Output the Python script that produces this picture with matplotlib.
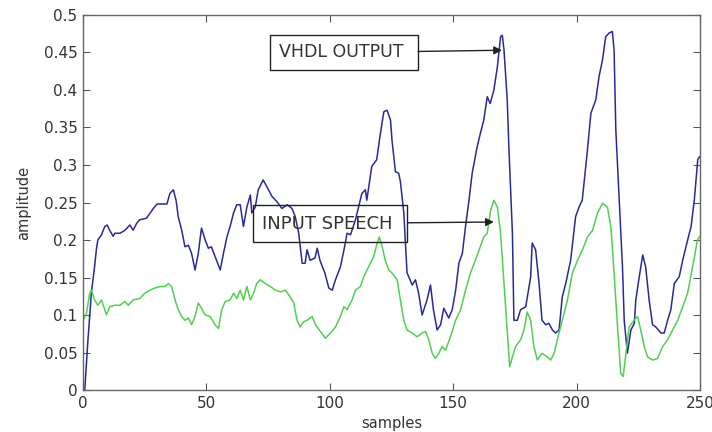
import matplotlib
matplotlib.use("Agg")
import matplotlib.pyplot as plt

# VHDL output (blue)
vhdl_x = [0.7, 2, 3.4, 4.7, 5.4, 6, 7.5, 8.8, 9.8, 10.8, 12.2, 12.9, 15, 17, 19, 20.3,
          21.7, 23, 25.7, 28.5, 30, 34, 35.2, 36.6, 37.7, 38.6, 40, 41.3, 42.7, 44,
          45.4, 46.7, 48, 49.5, 50.8, 52, 53.5, 55.6, 56.9, 58.3, 59.6, 61, 62.3, 63.7,
          65, 66.4, 67.8, 68.4, 69.8, 71, 73, 74.5, 76.6, 78.6, 80.6, 82.7, 84.7, 86,
          87.4, 88.8, 90, 90.8, 92, 94, 94.9, 96, 98, 99.6, 101, 102.3, 104.3, 106, 107,
          108.4, 110.4, 113, 114.4, 115, 117, 119, 120.5, 121.9, 123.2, 124.6, 125.2,
          126.6, 127.9, 128.6, 130, 131.3, 132, 133.4, 134.7, 136, 137.4, 139.4, 140.8,
          142, 143.5, 144.9, 146.2, 148.2, 149.6, 151, 152.3, 153.7, 155, 156.4, 157.7,
          159.7, 161, 162.4, 163.8, 165, 166.5, 167.9, 169.2, 169.9, 170.6, 171.9, 172.6,
          174, 174.6, 176, 177.3, 179.4, 181.4, 182, 183.4, 184.8, 186, 187.5, 188.8,
          190.2, 191.5, 192.9, 194.2, 195.6, 197.6, 199.6, 201, 202.3, 204.4, 205.8,
          207.8, 209.1, 210.5, 211.8, 213.2, 214.5, 215.2, 215.9, 217.3, 218.6, 219.3,
          220.6, 222, 223.4, 224, 225.4, 226.8, 228, 229.4, 230.8, 232.1, 234.2, 235.5,
          236.9, 238.2, 239.6, 241.6, 243, 245, 246.4, 247.7, 249.1, 249.8]
vhdl_y = [0.0, 0.067, 0.13, 0.165, 0.187, 0.2, 0.207, 0.218, 0.22, 0.213, 0.205, 0.209,
          0.209, 0.213, 0.22, 0.213, 0.222, 0.227, 0.229, 0.242, 0.248, 0.248, 0.262,
          0.267, 0.253, 0.231, 0.213, 0.191, 0.193, 0.182, 0.16, 0.182, 0.216, 0.2,
          0.189, 0.191, 0.178, 0.16, 0.182, 0.204, 0.218, 0.236, 0.247, 0.247, 0.218,
          0.244, 0.26, 0.236, 0.244, 0.267, 0.28, 0.271, 0.258, 0.251, 0.242, 0.247,
          0.242, 0.231, 0.209, 0.169, 0.169, 0.187, 0.173, 0.176, 0.189, 0.173, 0.156,
          0.136, 0.133, 0.147, 0.164, 0.191, 0.209, 0.207, 0.227, 0.262, 0.267, 0.253,
          0.298, 0.307, 0.342, 0.371, 0.373, 0.36, 0.333, 0.291, 0.289, 0.278, 0.236,
          0.156, 0.151, 0.14, 0.147, 0.129, 0.1, 0.12, 0.14, 0.107, 0.08, 0.087, 0.109,
          0.096, 0.107, 0.133, 0.169, 0.182, 0.218, 0.253, 0.289, 0.324, 0.342, 0.36,
          0.391, 0.382, 0.4, 0.431, 0.471, 0.473, 0.453, 0.387, 0.32, 0.209, 0.093,
          0.093, 0.107, 0.111, 0.151, 0.196, 0.187, 0.142, 0.093, 0.087, 0.089, 0.08,
          0.076, 0.08, 0.124, 0.142, 0.173, 0.231, 0.244, 0.253, 0.32, 0.369, 0.387,
          0.418, 0.44, 0.471, 0.476, 0.478, 0.453, 0.347, 0.253, 0.164, 0.093, 0.049,
          0.08, 0.089, 0.12, 0.151, 0.18, 0.164, 0.12, 0.087, 0.084, 0.076, 0.076,
          0.093, 0.107, 0.142, 0.151, 0.173, 0.2, 0.218, 0.253, 0.307, 0.311]

# input speech (green)
speech_x = [0, 1.4, 2.7, 3.4, 4.7, 6, 7.5, 9.5, 10.8, 12.9, 15, 17, 18.3, 20.3, 23, 25,
            27.1, 29.1, 31.2, 33.2, 34.6, 35.9, 37.3, 38.6, 40, 41.3, 42.7, 44, 45.4,
            46.7, 48, 49.5, 51.5, 53.5, 54.9, 56.2, 57.6, 59.6, 61, 62.3, 63.7, 65,
            66.4, 67.8, 69.1, 70.4, 71.8, 73.8, 75.9, 77.9, 80, 82, 84, 85.4, 86.7, 88,
            89.4, 90.8, 92.8, 94.2, 96.2, 98.2, 100.3, 102.3, 104.3, 105.7, 107, 109,
            110.4, 112.4, 113.8, 115.1, 116.4, 117.8, 119.2, 120.1, 121.2, 122.5, 123.9,
            125.2, 127.3, 128.6, 130, 131.3, 133.4, 135.4, 137.4, 138.8, 140.1, 141.5,
            142.8, 144.2, 145.5, 146.9, 148.9, 151, 153, 155, 157, 159, 161, 162.4,
            163.8, 165.2, 166.5, 167.9, 169.2, 170.6, 172, 172.9, 174, 175.3, 177.3,
            178.7, 180, 181.4, 182.7, 184.1, 186, 188.2, 189.5, 190.9, 192.2, 194.2,
            196.3, 198.3, 200.4, 202.4, 204.4, 206.5, 208.5, 210.5, 212.5, 213.9, 215.2,
            216.6, 217.9, 218.9, 220, 221.3, 223.3, 224.7, 226, 227.4, 228.8, 230.8,
            232.8, 234.9, 236.9, 238.9, 241, 243, 245, 247, 249, 249.7]
speech_y = [0.093, 0.102, 0.129, 0.133, 0.12, 0.113, 0.12, 0.1, 0.111, 0.113, 0.113,
            0.118, 0.113, 0.12, 0.122, 0.129, 0.133, 0.136, 0.138, 0.138, 0.142, 0.138,
            0.12, 0.107, 0.098, 0.093, 0.096, 0.087, 0.098, 0.116, 0.109, 0.1, 0.098,
            0.087, 0.082, 0.107, 0.118, 0.12, 0.129, 0.122, 0.133, 0.12, 0.138, 0.12,
            0.129, 0.142, 0.147, 0.142, 0.138, 0.133, 0.131, 0.133, 0.124, 0.116, 0.093,
            0.084, 0.091, 0.093, 0.098, 0.087, 0.078, 0.069, 0.076, 0.084, 0.098, 0.111,
            0.107, 0.12, 0.133, 0.138, 0.151, 0.16, 0.169, 0.178, 0.196, 0.204, 0.191,
            0.173, 0.16, 0.156, 0.147, 0.12, 0.093, 0.08, 0.076, 0.071, 0.076, 0.078,
            0.067, 0.049, 0.042, 0.049, 0.058, 0.053, 0.071, 0.093, 0.107, 0.133, 0.156,
            0.173, 0.191, 0.204, 0.209, 0.24, 0.253, 0.244, 0.209, 0.142, 0.076, 0.031,
            0.044, 0.058, 0.067, 0.08, 0.104, 0.093, 0.058, 0.04, 0.049, 0.044, 0.04,
            0.049, 0.067, 0.093, 0.12, 0.156, 0.173, 0.187, 0.204, 0.213, 0.236, 0.249,
            0.244, 0.218, 0.156, 0.084, 0.022, 0.018, 0.049, 0.084, 0.093, 0.098, 0.08,
            0.058, 0.044, 0.04, 0.042, 0.058, 0.067, 0.08, 0.093, 0.111, 0.129, 0.164,
            0.2, 0.204]

xticks = [0, 50, 100, 150, 200, 250]
yticks = [0, 0.05, 0.1, 0.15, 0.2, 0.25, 0.3, 0.35, 0.4, 0.45, 0.5]
ytick_labels = ["0", "0.05", "0.1", "0.15", "0.2", "0.25", "0.3", "0.35", "0.4", "0.45", "0.5"]

fig = plt.figure(figsize=(7.12, 4.32), dpi=100)
ax = fig.add_axes([0.1166, 0.0972, 0.8665, 0.8681])

ax.plot(vhdl_x, vhdl_y, color="#2a2a96", lw=1.1)
ax.plot(speech_x, speech_y, color="#4fd04f", lw=1.1)

ax.set_xlim(0, 250)
ax.set_ylim(0, 0.5)
ax.set_xticks(xticks)
ax.set_yticks(yticks)
ax.set_yticklabels(ytick_labels)
ax.tick_params(direction="in", length=5, top=True, right=True, labelsize=11,
               color="#555555", labelcolor="#333333", pad=4)
for s in ax.spines.values():
    s.set_color("#666666")
    s.set_linewidth(1.0)

ax.set_xlabel("samples", fontsize=10.5, color="#333333", labelpad=4)
ax.set_ylabel("amplitude", fontsize=10.5, color="#333333", labelpad=9)

# transparent boxes: the curves show through them as in the original
arrow = dict(arrowstyle="-|>", color="#222222", lw=1.0, shrinkA=0, shrinkB=0,
             mutation_scale=12)
ax.annotate("VHDL OUTPUT ", xy=(169.8, 0.453), xytext=(79.4, 0.45),
            fontsize=12.5, color="#333333", va="center", ha="left",
            bbox=dict(boxstyle="square,pad=0.5", fc="none", ec="#222222", lw=1.0),
            arrowprops=arrow)
ax.annotate("INPUT SPEECH ", xy=(166.5, 0.224), xytext=(72.6, 0.222),
            fontsize=13, color="#333333", va="center", ha="left",
            bbox=dict(boxstyle="square,pad=0.5", fc="none", ec="#222222", lw=1.0),
            arrowprops=arrow)

fig.savefig("out.png", dpi=100)
